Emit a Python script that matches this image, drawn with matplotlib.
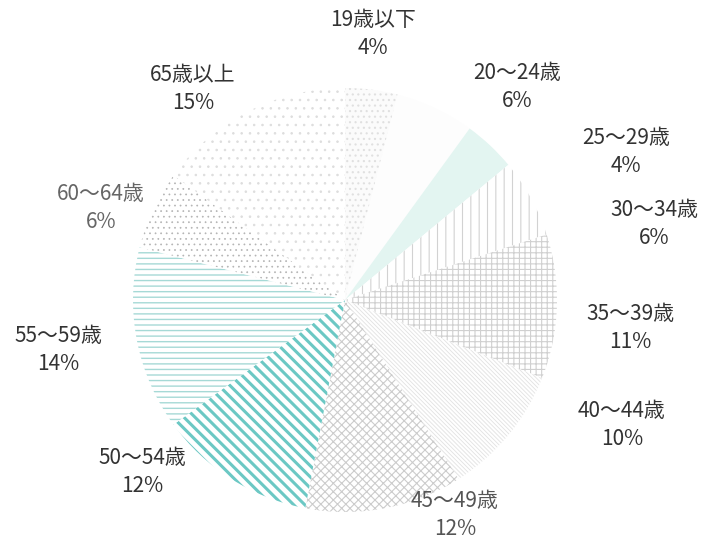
import matplotlib
matplotlib.use('Agg')
import matplotlib.pyplot as plt

plt.rcParams['font.family'] = ['Noto Sans CJK JP', 'DejaVu Sans']

# age groups and shares (%)
labels = ['19歳以下', '20～24歳', '25～29歳', '30～34歳', '35～39歳', '40～44歳',
          '45～49歳', '50～54歳', '55～59歳', '60～64歳', '65歳以上']
shares = [4, 6, 4, 6, 11, 10, 12, 12, 14, 6, 15]

# look of each slice: (face, hatch colour, hatch, hatch width)
styles = [
    ('#fbfbfb', '#e0e0e0', '...', 0.8),
    ('#fdfdfd', '#f0f0f0', '', 0.8),
    ('#e3f5f1', '#e3f5f1', '', 0.8),
    ('#ffffff', '#d2d2d2', '||', 0.8),
    ('#ffffff', '#d0d0d0', '+++', 0.8),
    ('#ffffff', '#e2e2e2', '\\' * 8, 0.6),
    ('#ffffff', '#cccccc', 'xxxx', 0.8),
    ('#ffffff', '#6cc8c4', '\\' * 3, 2.2),
    ('#ffffff', '#a6d9d6', '---', 1.0),
    ('#ffffff', '#b4b4b4', '...', 0.5),
    ('#ffffff', '#dddddd', '..', 0.6),
]

# label block centres in pixels (x, y from top)
label_px = [(373, 34), (517, 87), (626, 152), (654, 224), (630, 328), (622, 425),
            (455, 515), (142, 472), (58, 350), (101, 208), (193, 89)]
label_colors = ['#333333'] * 11
label_colors[9] = '#666666'
label_colors[6] = '#555555'

W, H = 706, 544
cx, cy, R = 345, 300, 212

fig = plt.figure(figsize=(W / 100, H / 100), dpi=100)
ax = fig.add_axes([0, 0, 1, 1])

wedges, _ = ax.pie(shares, startangle=90, counterclock=False, radius=1.0,
                   wedgeprops=dict(linewidth=0))
for w, (fc, hc, hatch, hlw) in zip(wedges, styles):
    w.set_facecolor(fc)
    w.set_edgecolor(hc)
    w.set_hatch(hatch)
    if hasattr(w, 'set_hatch_linewidth'):
        w.set_hatch_linewidth(hlw)

ax.set_aspect('auto')
ax.set_xlim(-cx / R, (W - cx) / R)
ax.set_ylim(-(H - cy) / R, cy / R)
ax.axis('off')

for lab, val, (px, py), col in zip(labels, shares, label_px, label_colors):
    x = (px - cx) / R
    y = (cy - py) / R
    ax.text(x, y, f'{lab}\n{val}%', ha='center', va='center', fontsize=15,
            color=col, linespacing=1.35)

fig.savefig('out.png', dpi=100)
